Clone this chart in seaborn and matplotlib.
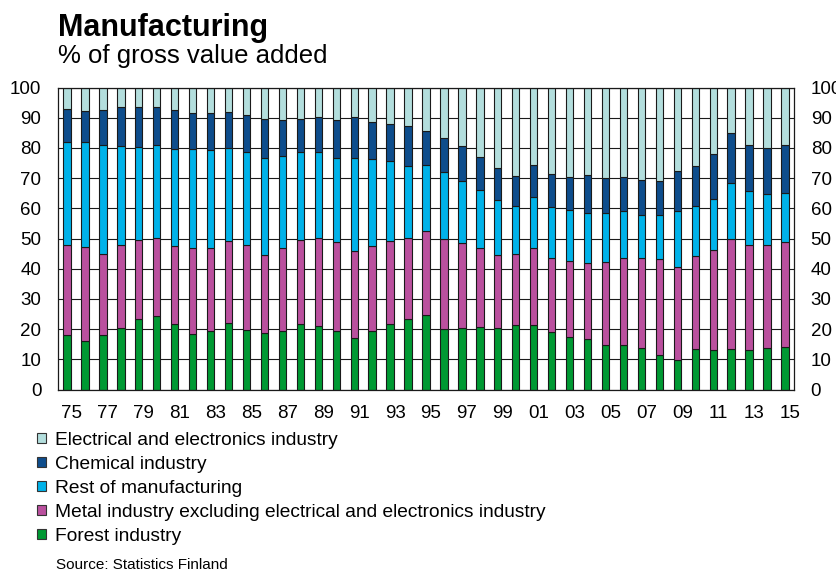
import matplotlib
matplotlib.use('Agg')
import matplotlib.pyplot as plt
import matplotlib.transforms as mtransforms
from matplotlib.patches import Patch
import pandas as pd
import seaborn as sns

# ─────────────────────────────────────────────
# Data: share of manufacturing gross value added, %
# ─────────────────────────────────────────────

years = list(range(1975, 2016))

forest = [18.0, 16.2, 17.9, 20.5, 23.4, 24.5, 21.7, 18.4, 19.5, 22.1,
          19.6, 18.8, 19.4, 21.7, 20.9, 19.3, 17.1, 19.5, 21.7, 23.2,
          24.6, 19.9, 20.2, 20.8, 20.5, 21.2, 21.2, 18.9, 17.3, 16.7,
          14.6, 14.8, 13.7, 11.3, 9.9, 13.4, 13.0, 13.4, 13.1, 13.7, 14.0]

metal = [29.9, 31.0, 27.1, 27.4, 26.2, 25.7, 25.7, 28.5, 27.5, 27.0,
         28.4, 25.8, 27.6, 27.9, 29.2, 29.4, 28.6, 28.1, 27.6, 27.0,
         27.8, 29.8, 28.3, 26.1, 24.0, 23.7, 25.5, 24.5, 25.4, 25.1,
         27.6, 28.9, 29.7, 31.9, 30.8, 30.9, 33.1, 36.3, 34.6, 34.2, 34.8]

rest = [34.1, 34.6, 35.9, 32.8, 30.8, 30.9, 32.3, 32.8, 32.2, 30.9,
        30.7, 32.2, 30.4, 29.2, 28.4, 28.1, 31.1, 28.6, 26.3, 23.9,
        21.9, 22.4, 20.7, 19.0, 18.4, 15.9, 17.0, 17.1, 16.9, 16.7,
        16.4, 15.5, 14.5, 14.7, 18.4, 16.6, 17.0, 18.7, 17.9, 16.9, 16.2]

chemical = [10.9, 10.5, 11.6, 12.7, 13.2, 12.3, 12.8, 11.9, 12.4, 11.8,
            12.2, 12.7, 11.9, 10.9, 11.7, 12.4, 13.4, 12.5, 12.4, 13.0,
            11.4, 11.3, 11.3, 11.1, 10.4, 9.8, 10.5, 11.0, 10.8, 12.5,
            11.5, 11.2, 11.4, 11.2, 13.4, 13.2, 14.8, 16.4, 15.4, 15.1, 16.0]

electrical = [7.1, 7.7, 7.5, 6.6, 6.4, 6.6, 7.5, 8.4, 8.4, 8.2,
              9.1, 10.5, 10.7, 10.3, 9.8, 10.8, 9.8, 11.3, 12.0, 12.9,
              14.3, 16.6, 19.5, 23.0, 26.7, 29.4, 25.8, 28.5, 29.6, 29.0,
              29.9, 29.6, 30.7, 30.9, 27.5, 25.9, 22.1, 15.2, 19.0, 20.1, 19.0]

labels = [
    'Electrical and electronics industry',
    'Chemical industry',
    'Rest of manufacturing',
    'Metal industry excluding electrical and electronics industry',
    'Forest industry',
]
series = [electrical, chemical, rest, metal, forest]
colors = ['#b3dedd', '#0e4d8c', '#00b2e9', '#ba509e', '#009933']

x_ticks = list(range(1975, 2016, 2))
x_ticklabels = [f'{y % 100:02d}' for y in x_ticks]

# long-form table for seaborn
df = pd.concat(
    [pd.DataFrame({'year': years, 'value': vals, 'industry': lab})
     for lab, vals in zip(labels, series)],
    ignore_index=True,
)
palette = dict(zip(labels, colors))

# ─────────────────────────────────────────────
# Plot
# ─────────────────────────────────────────────

sns.set_style('white')
plt.rcParams['font.family'] = ['Liberation Sans', 'DejaVu Sans']
plt.rcParams['text.color'] = 'black'
plt.rcParams['xtick.color'] = 'black'
plt.rcParams['ytick.color'] = 'black'

fig = plt.figure(figsize=(8.37, 5.74), dpi=100)
ax = fig.add_axes([58 / 837, 1 - 389.5 / 574, (794 - 58) / 837, (389.5 - 87.5) / 574])

# first hue level ends up on top of the stack
sns.histplot(data=df, x='year', weights='value', hue='industry',
             hue_order=labels, palette=palette, multiple='stack',
             discrete=True, shrink=0.41, alpha=1, edgecolor='#1a1a1a',
             linewidth=0.8, legend=False, ax=ax)

ax.set_xlim(1974.5, 2015.5)
ax.set_ylim(0, 100)
ax.set_yticks(range(0, 101, 10))
ax.set_xticks(x_ticks)
ax.set_xticklabels(x_ticklabels)
ax.set_xlabel('')
ax.set_ylabel('')

ax.yaxis.grid(True, color='#1a1a1a', linewidth=0.8)
ax.set_axisbelow(True)
for s in ax.spines.values():
    s.set_visible(True)
    s.set_color('#1a1a1a')
    s.set_linewidth(0.9)

ax.tick_params(axis='y', length=0, pad=12, labelsize=13.5,
               labelleft=True, labelright=True)
ax.tick_params(axis='x', length=0, pad=11, labelsize=13.5)
shift = mtransforms.ScaledTranslation(5 / 100, 0, fig.dpi_scale_trans)
for lbl in ax.get_xticklabels():
    lbl.set_transform(lbl.get_transform() + shift)

# titles
fig.text(58 / 837, 1 - 36 / 574, 'Manufacturing', fontsize=22,
         fontweight='bold', va='baseline', ha='left')
fig.text(58 / 837, 1 - 63 / 574, '% of gross value added', fontsize=18.5,
         va='baseline', ha='left')

# legend
handles = [Patch(facecolor=c, edgecolor='#333333', linewidth=0.8) for c in colors]
fig.legend(handles, labels, loc='upper left',
           bbox_to_anchor=(37 / 837, 1 - 432 / 574), frameon=False,
           fontsize=13.8, handlelength=0.45, handleheight=0.45,
           handletextpad=0.5, labelspacing=0.36, borderpad=0,
           borderaxespad=0)

fig.text(56 / 837, 1 - 569 / 574, 'Source: Statistics Finland', fontsize=11,
         va='baseline', ha='left')

fig.savefig('out.png', dpi=100)
plt.close(fig)
